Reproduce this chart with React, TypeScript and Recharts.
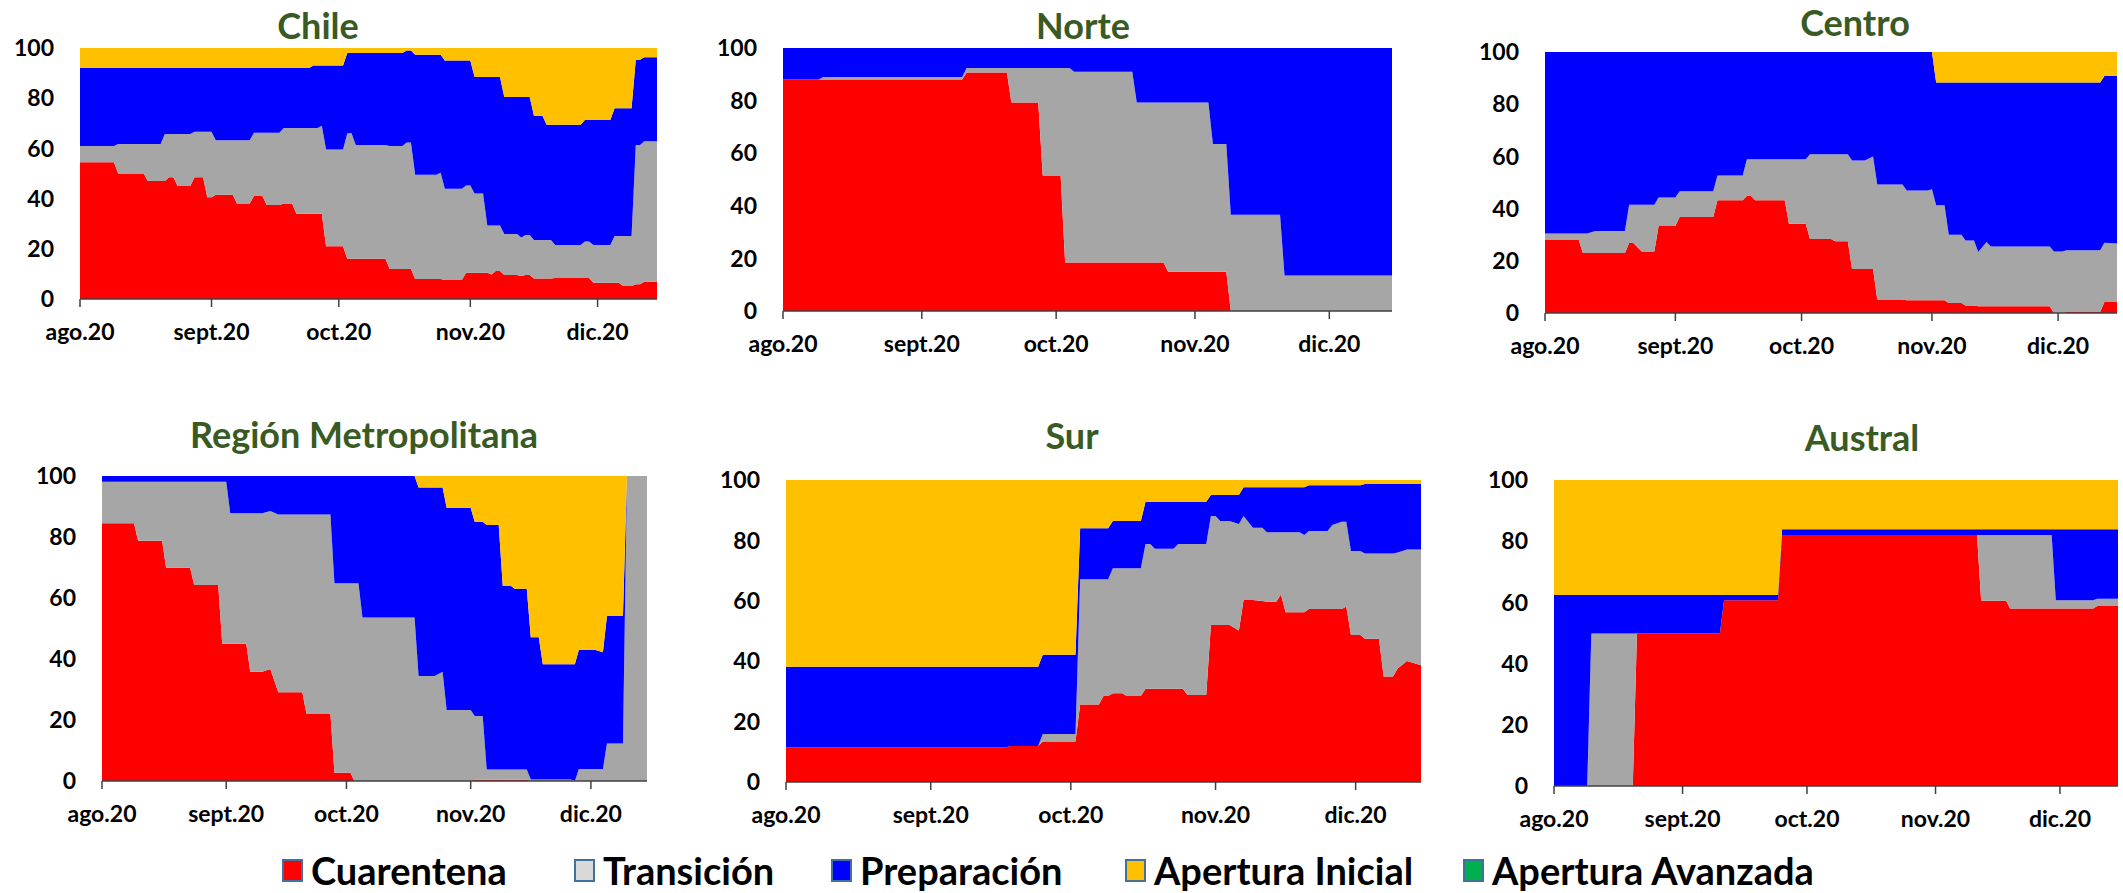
import { AreaChart, Area, XAxis, YAxis } from 'recharts';

// each row: [day since 1 Aug 2020, Cuarentena, Transición, Preparación, Apertura Inicial] (% of population)
type Row = [number, number, number, number, number];

const monthTicks = [0, 31, 61, 92, 122];
const monthLabels = ['ago.20', 'sept.20', 'oct.20', 'nov.20', 'dic.20'];
const yTicks = [0, 20, 40, 60, 80, 100];
const lastDay = 136;

const chileRows: Row[] = [
  [0, 54.5, 6.5, 31, 8], [8, 54.5, 6.5, 31, 8], [9, 50, 11.8, 30.2, 8], [15, 50, 11.8, 30.2, 8],
  [16, 47, 14.8, 30.2, 8], [19, 47, 14.8, 30.2, 8], [20, 47, 18.7, 26.3, 8], [21, 48.5, 17.2, 26.3, 8],
  [22, 48.5, 17.2, 26.3, 8], [23, 45, 20.7, 26.3, 8], [26, 45, 20.7, 26.3, 8], [27, 48.5, 18.1, 25.4, 8],
  [29, 48.5, 18.1, 25.4, 8], [30, 40.5, 26.1, 25.4, 8], [31, 40.5, 26.1, 25.4, 8], [32, 41.5, 21.7, 28.8, 8],
  [36, 41.5, 21.7, 28.8, 8], [37, 38, 25.2, 28.8, 8], [40, 38, 25.2, 28.8, 8], [41, 41, 25.2, 25.8, 8],
  [43, 41, 25.2, 25.8, 8], [44, 37.5, 28.7, 25.8, 8], [47, 37.5, 28.7, 25.8, 8], [48, 38, 30.1, 23.9, 8],
  [50, 38, 30.1, 23.9, 8], [51, 34, 34.1, 23.9, 8], [54, 34, 34.1, 23.9, 8], [55, 34, 34.1, 24.9, 7],
  [56, 34, 34.1, 24.9, 7], [57, 34, 35, 24, 7], [58, 21, 38.6, 33.4, 7], [62, 21, 38.6, 33.4, 7],
  [63, 16, 50, 32, 2], [64, 16, 50, 32, 2], [65, 16, 45.4, 36.6, 2], [72, 16, 45.4, 36.6, 2],
  [73, 12, 49, 37, 2], [76, 12, 49, 37, 2], [77, 12, 50.4, 36.6, 1], [78, 12, 50.4, 36.6, 1],
  [79, 8, 41.5, 47.8, 2.7], [84, 8, 41.5, 47.8, 2.7], [85, 8, 42.3, 47, 2.7], [86, 7.6, 36.3, 51.1, 5],
  [90, 7.6, 36.3, 51.1, 5], [91, 10.5, 34.7, 49.8, 5], [92, 10.5, 34.7, 49.8, 5], [93, 10.5, 31.5, 46.4, 11.6],
  [95, 10.5, 31.5, 46.4, 11.6], [96, 10.5, 18.8, 59.1, 11.6], [97, 9.8, 19.5, 59.1, 11.6], [98, 11.2, 18.1, 59.1, 11.6],
  [99, 11.2, 18.1, 59.1, 11.6], [100, 9.6, 16.3, 54.6, 19.5], [103, 9.6, 16.3, 54.6, 19.5], [104, 9.2, 15.3, 56, 19.5],
  [105, 9.6, 15.9, 55, 19.5], [106, 9.6, 15.9, 55, 19.5], [107, 8.2, 15.3, 49.5, 27], [109, 8.2, 15.3, 49.5, 27],
  [110, 8.2, 15.3, 45.9, 30.6], [111, 8.2, 15.3, 45.9, 30.6], [112, 8.4, 13.1, 47.9, 30.6], [118, 8.4, 13.1, 47.9, 30.6],
  [119, 8.4, 14.5, 48.4, 28.7], [120, 8.4, 14.5, 48.4, 28.7], [121, 6.5, 15, 49.8, 28.7], [125, 6.5, 15, 49.8, 28.7],
  [126, 6.5, 18.6, 50.9, 24], [127, 6.5, 18.6, 50.9, 24], [128, 5.2, 19.9, 50.9, 24], [130, 5.2, 19.9, 50.9, 24],
  [131, 5.9, 55.5, 33.9, 4.7], [132, 5.9, 55.5, 33.9, 4.7], [133, 6.9, 55.9, 33.5, 3.7], [136, 6.9, 55.9, 33.5, 3.7],
];

const norteRows: Row[] = [
  [0, 88, 0, 12, 0], [8, 88, 0, 12, 0], [9, 88, 1, 11, 0], [40, 88, 1, 11, 0],
  [41, 90.7, 1.7, 7.6, 0], [50, 90.7, 1.7, 7.6, 0], [51, 79.3, 13.1, 7.6, 0], [57, 79.3, 13.1, 7.6, 0],
  [58, 51.5, 40.9, 7.6, 0], [62, 51.5, 40.9, 7.6, 0], [63, 18.4, 74, 7.6, 0], [64, 18.4, 74, 7.6, 0],
  [65, 18.4, 72.6, 9, 0], [78, 18.4, 72.6, 9, 0], [79, 18.4, 60.9, 20.7, 0], [85, 18.4, 60.9, 20.7, 0],
  [86, 14.9, 64.4, 20.7, 0], [95, 14.9, 64.4, 20.7, 0], [96, 14.9, 48.6, 36.5, 0], [99, 14.9, 48.6, 36.5, 0],
  [100, 0, 36.6, 63.4, 0], [111, 0, 36.6, 63.4, 0], [112, 0, 13.5, 86.5, 0], [136, 0, 13.5, 86.5, 0],
];

const centroRows: Row[] = [
  [0, 28.2, 2.3, 69.5, 0], [8, 28.2, 2.3, 69.5, 0], [9, 23, 7.5, 69.5, 0], [10, 23, 7.5, 69.5, 0],
  [12, 23, 8.4, 68.6, 0], [19, 23, 8.4, 68.6, 0], [20, 26.8, 14.7, 58.5, 0], [21, 26.8, 14.7, 58.5, 0],
  [23, 23.6, 17.9, 58.5, 0], [26, 23.6, 17.9, 58.5, 0], [27, 33.3, 11, 55.7, 0], [31, 33.3, 11, 55.7, 0],
  [32, 36.8, 9.8, 53.4, 0], [40, 36.8, 9.8, 53.4, 0], [41, 43.2, 9.5, 47.3, 0], [47, 43.2, 9.5, 47.3, 0],
  [48, 44.8, 14.1, 41.1, 0], [49, 44.8, 14.1, 41.1, 0], [50, 43.2, 15.7, 41.1, 0], [57, 43.2, 15.7, 41.1, 0],
  [58, 34.2, 24.7, 41.1, 0], [62, 34.2, 24.7, 41.1, 0], [63, 28.4, 32.4, 39.2, 0], [68, 28.4, 32.4, 39.2, 0],
  [69, 27.5, 33.3, 39.2, 0], [72, 27.5, 33.3, 39.2, 0], [73, 16.9, 41.5, 41.6, 0], [76, 16.9, 41.5, 41.6, 0],
  [78, 16.9, 43.1, 40, 0], [79, 5.2, 44, 50.8, 0], [85, 5.2, 44, 50.8, 0], [86, 4.9, 42, 53.1, 0],
  [91, 4.9, 42, 53.1, 0], [92, 4.9, 42.5, 52.6, 0], [93, 4.9, 36.4, 47, 11.7], [95, 4.9, 36.4, 47, 11.7],
  [96, 3.8, 26.2, 58.3, 11.7], [99, 3.8, 26.2, 58.3, 11.7], [100, 2.9, 24.9, 60.5, 11.7], [102, 2.9, 24.9, 60.5, 11.7],
  [103, 2.6, 20.8, 64.9, 11.7], [105, 2.6, 24.6, 61.1, 11.7], [106, 2.6, 22.9, 62.8, 11.7], [120, 2.6, 22.9, 62.8, 11.7],
  [121, 0, 23.6, 64.7, 11.7], [123, 0, 23.6, 64.7, 11.7], [124, 0.4, 23.6, 64.3, 11.7], [132, 0.4, 23.6, 64.3, 11.7],
  [133, 4.2, 22.7, 63.9, 9.2], [136, 4.2, 22.4, 64.2, 9.2],
];

const metropolitanaRows: Row[] = [
  [0, 84.5, 13.6, 1.9, 0], [8, 84.5, 13.6, 1.9, 0], [9, 78.8, 19.3, 1.9, 0], [15, 78.8, 19.3, 1.9, 0],
  [16, 69.9, 28.2, 1.9, 0], [22, 69.9, 28.2, 1.9, 0], [23, 64.3, 33.8, 1.9, 0], [29, 64.3, 33.8, 1.9, 0],
  [30, 45, 53.1, 1.9, 0], [31, 45, 53.1, 1.9, 0], [32, 45, 42.8, 12.2, 0], [36, 45, 42.8, 12.2, 0],
  [37, 35.8, 52, 12.2, 0], [40, 35.8, 52, 12.2, 0], [42, 36.7, 51.8, 11.5, 0], [44, 29.1, 58.3, 12.6, 0],
  [50, 29.1, 58.3, 12.6, 0], [51, 22.1, 65.3, 12.6, 0], [57, 22.1, 65.3, 12.6, 0], [58, 2.7, 62.1, 35.2, 0],
  [62, 2.7, 62.1, 35.2, 0], [63, 0, 64.8, 35.2, 0], [64, 0, 64.8, 35.2, 0], [65, 0, 53.6, 46.4, 0],
  [78, 0, 53.6, 46.4, 0], [79, 0, 34.4, 61.8, 3.8], [83, 0, 34.4, 61.8, 3.8], [85, 0, 35.8, 60.4, 3.8],
  [86, 0, 23.3, 66.3, 10.4], [92, 0, 23.3, 66.3, 10.4], [93, 0.4, 20.9, 63.7, 15], [95, 0.4, 20.9, 63.7, 15],
  [96, 0.4, 3.4, 80.1, 16.1], [99, 0.4, 3.4, 80.1, 16.1], [100, 0.4, 3.4, 60.2, 36], [102, 0.4, 3.4, 60.2, 36],
  [103, 0.4, 3.4, 59.2, 37], [106, 0.4, 3.4, 59.2, 37], [107, 0, 0.5, 46.6, 52.9], [109, 0, 0.5, 46.6, 52.9],
  [110, 0, 0.5, 37.8, 61.7], [117, 0, 0.5, 37.8, 61.7], [118, 0, 0, 38.3, 61.7], [119, 0, 3.9, 39.1, 57],
  [123, 0, 3.9, 39.1, 57], [125, 0, 3.9, 38.3, 57.8], [126, 0, 12.3, 41.8, 45.9], [130, 0, 12.3, 41.8, 45.9],
  [131, 0, 100, 0, 0], [136, 0, 100, 0, 0],
];

const surRows: Row[] = [
  [0, 11.4, 0, 26.8, 61.8], [47, 11.4, 0, 26.8, 61.8], [48, 11.9, 0, 26.3, 61.8], [54, 11.9, 0, 26.3, 61.8],
  [55, 13.4, 2.5, 26.2, 57.9], [62, 13.4, 2.5, 26.2, 57.9], [63, 25.7, 41.4, 16.9, 16], [67, 25.7, 41.4, 16.9, 16],
  [68, 28.5, 38.6, 16.9, 16], [69, 28.5, 38.6, 16.9, 16], [70, 29.4, 41.4, 15.6, 13.6], [72, 29.4, 41.4, 15.6, 13.6],
  [73, 28.5, 42.3, 15.6, 13.6], [76, 28.5, 42.3, 15.6, 13.6], [77, 30.9, 47.9, 14, 7.2], [78, 30.9, 47.9, 14, 7.2],
  [79, 30.9, 46.3, 15.6, 7.2], [83, 30.9, 46.3, 15.6, 7.2], [84, 30.9, 47.9, 14, 7.2], [85, 30.9, 47.9, 14, 7.2],
  [86, 28.8, 50, 14, 7.2], [90, 28.8, 50, 14, 7.2], [91, 52, 36.1, 6.9, 5], [92, 52, 36.1, 6.9, 5],
  [93, 52, 34.4, 8.6, 5], [95, 52, 34.4, 8.6, 5], [97, 50.2, 35.2, 9.6, 5], [98, 60.3, 27.8, 9.5, 2.4],
  [100, 60.3, 23.9, 13.4, 2.4], [102, 59.9, 24.3, 13.4, 2.4], [103, 59.7, 23, 14.9, 2.4], [105, 59.7, 23, 14.9, 2.4],
  [106, 62.1, 20.6, 14.9, 2.4], [107, 56.2, 26.5, 14.9, 2.4], [110, 56.2, 26.5, 14.9, 2.4], [111, 56.2, 25.6, 15.8, 2.4],
  [112, 57.3, 25.8, 15.2, 1.7], [116, 57.3, 25.8, 15.2, 1.7], [117, 57.3, 27.8, 13.2, 1.7], [119, 57.3, 28.9, 12.1, 1.7],
  [120, 58.1, 28.1, 12.1, 1.7], [121, 48.7, 27.8, 21.8, 1.7], [123, 48.7, 27.8, 21.8, 1.7], [124, 47.4, 28.3, 23, 1.3],
  [127, 47.4, 28.3, 23, 1.3], [128, 34.9, 40.8, 23, 1.3], [130, 34.9, 40.8, 23, 1.3], [131, 37.6, 38.4, 22.7, 1.3],
  [133, 40.1, 36.9, 21.7, 1.3], [136, 38.7, 38.3, 21.7, 1.3],
];

const australRows: Row[] = [
  [0, 0, 0, 62.4, 37.6], [8, 0, 0, 62.4, 37.6], [9, 0, 49.8, 12.6, 37.6], [19, 0, 49.8, 12.6, 37.6],
  [20, 49.8, 0, 12.6, 37.6], [40, 49.8, 0, 12.6, 37.6], [41, 60.7, 0, 1.7, 37.6], [54, 60.7, 0, 1.7, 37.6],
  [55, 82, 0, 1.9, 16.1], [102, 82, 0, 1.9, 16.1], [103, 60.5, 21.5, 1.9, 16.1], [109, 60.5, 21.5, 1.9, 16.1],
  [110, 58, 24, 1.9, 16.1], [120, 58, 24, 1.9, 16.1], [121, 58, 2.7, 23.2, 16.1], [130, 58, 2.7, 23.2, 16.1],
  [131, 58.8, 2.4, 22.7, 16.1], [136, 58.8, 2.4, 22.7, 16.1],
];

const phases = [
  { key: 'cuarentena', name: 'Cuarentena', fill: '#FF0000', swatch: '#FF0000' },
  { key: 'transicion', name: 'Transición', fill: '#A6A6A6', swatch: '#D9D9D9' },
  { key: 'preparacion', name: 'Preparación', fill: '#0000FF', swatch: '#0000FF' },
  { key: 'apertura', name: 'Apertura Inicial', fill: '#FFC000', swatch: '#FFC000' },
  { key: 'avanzada', name: 'Apertura Avanzada', fill: '#00B050', swatch: '#00B050' },
];

const FONT = 'Lato, "Open Sans", sans-serif';
const TITLE_COLOR = '#3A5A24';

interface Box {
  left: number;
  top: number;
  right: number;
  bottom: number;
  titleX: number;
  titleBase: number;
}

const panels: { title: string; rows: Row[]; box: Box }[] = [
  { title: 'Chile', rows: chileRows, box: { left: 80, top: 48, right: 657, bottom: 299, titleX: 318, titleBase: 38 } },
  { title: 'Norte', rows: norteRows, box: { left: 783, top: 48, right: 1392, bottom: 311, titleX: 1083, titleBase: 38 } },
  { title: 'Centro', rows: centroRows, box: { left: 1545, top: 52, right: 2117, bottom: 313, titleX: 1855, titleBase: 35 } },
  { title: 'Región Metropolitana', rows: metropolitanaRows, box: { left: 102, top: 476, right: 647, bottom: 781, titleX: 364, titleBase: 447 } },
  { title: 'Sur', rows: surRows, box: { left: 786, top: 480, right: 1421, bottom: 782, titleX: 1072, titleBase: 448 } },
  { title: 'Austral', rows: australRows, box: { left: 1554, top: 480, right: 2118, bottom: 786, titleX: 1862, titleBase: 450 } },
];

const legendLefts = [282, 574, 831, 1125, 1463];

function RegionChart({ title, rows, box }: { title: string; rows: Row[]; box: Box }) {
  const data = rows.map(([day, cuarentena, transicion, preparacion, apertura]) => ({
    day,
    cuarentena,
    transicion,
    preparacion,
    apertura,
  }));
  const yW = 70;
  const padTop = 20;
  const padRight = 4;
  const xH = 60;
  const w = box.right - box.left + yW + padRight;
  const h = box.bottom - box.top + padTop + xH;
  const tickStyle = { fill: '#000', fontSize: 23, fontWeight: 700, fontFamily: FONT };

  return (
    <>
      <div style={{ position: 'absolute', left: box.left - yW, top: box.top - padTop }}>
        <AreaChart width={w} height={h} data={data} margin={{ top: padTop, right: padRight, bottom: 0, left: 0 }}>
          <XAxis
            type="number"
            dataKey="day"
            domain={[0, lastDay]}
            ticks={monthTicks}
            interval={0}
            tickFormatter={(v) => monthLabels[monthTicks.indexOf(v)]}
            height={xH}
            tick={tickStyle}
            tickSize={8}
            tickMargin={17}
            stroke="#404040"
            strokeWidth={1.5}
          />
          <YAxis
            type="number"
            domain={[0, 100]}
            ticks={yTicks}
            width={yW}
            allowDataOverflow
            axisLine={false}
            tickLine={false}
            tickSize={6}
            tickMargin={20}
            tick={tickStyle}
          />
          {phases.slice(0, 4).map((p) => (
            <Area
              key={p.key}
              type="linear"
              dataKey={p.key}
              name={p.name}
              stackId="fase"
              fill={p.fill}
              fillOpacity={1}
              stroke="none"
              dot={false}
              activeDot={false}
              isAnimationActive={false}
            />
          ))}
        </AreaChart>
      </div>
      <div
        style={{
          position: 'absolute',
          left: box.titleX - 300,
          width: 600,
          top: box.titleBase - 31,
          textAlign: 'center',
          fontFamily: FONT,
          fontWeight: 700,
          fontSize: 36,
          lineHeight: '36px',
          color: TITLE_COLOR,
          whiteSpace: 'nowrap',
        }}
      >
        {title}
      </div>
    </>
  );
}

export default function App() {
  return (
    <div
      style={{
        position: 'absolute',
        left: 0,
        top: 0,
        width: 2123,
        height: 893,
        overflow: 'hidden',
        background: '#fff',
      }}
    >
      {panels.map((p) => (
        <RegionChart key={p.title} title={p.title} rows={p.rows} box={p.box} />
      ))}
      {phases.map((p, i) => (
        <div
          key={p.key}
          style={{
            position: 'absolute',
            left: legendLefts[i],
            top: 851,
            height: 38,
            display: 'flex',
            alignItems: 'center',
            fontFamily: FONT,
            fontWeight: 700,
            fontSize: 38,
            lineHeight: '38px',
            color: '#000',
            whiteSpace: 'nowrap',
          }}
        >
          <span
            style={{
              display: 'inline-block',
              width: 17,
              height: 19,
              background: p.swatch,
              border: '2px solid #41719C',
              marginRight: 8,
            }}
          />
          {p.name}
        </div>
      ))}
    </div>
  );
}
